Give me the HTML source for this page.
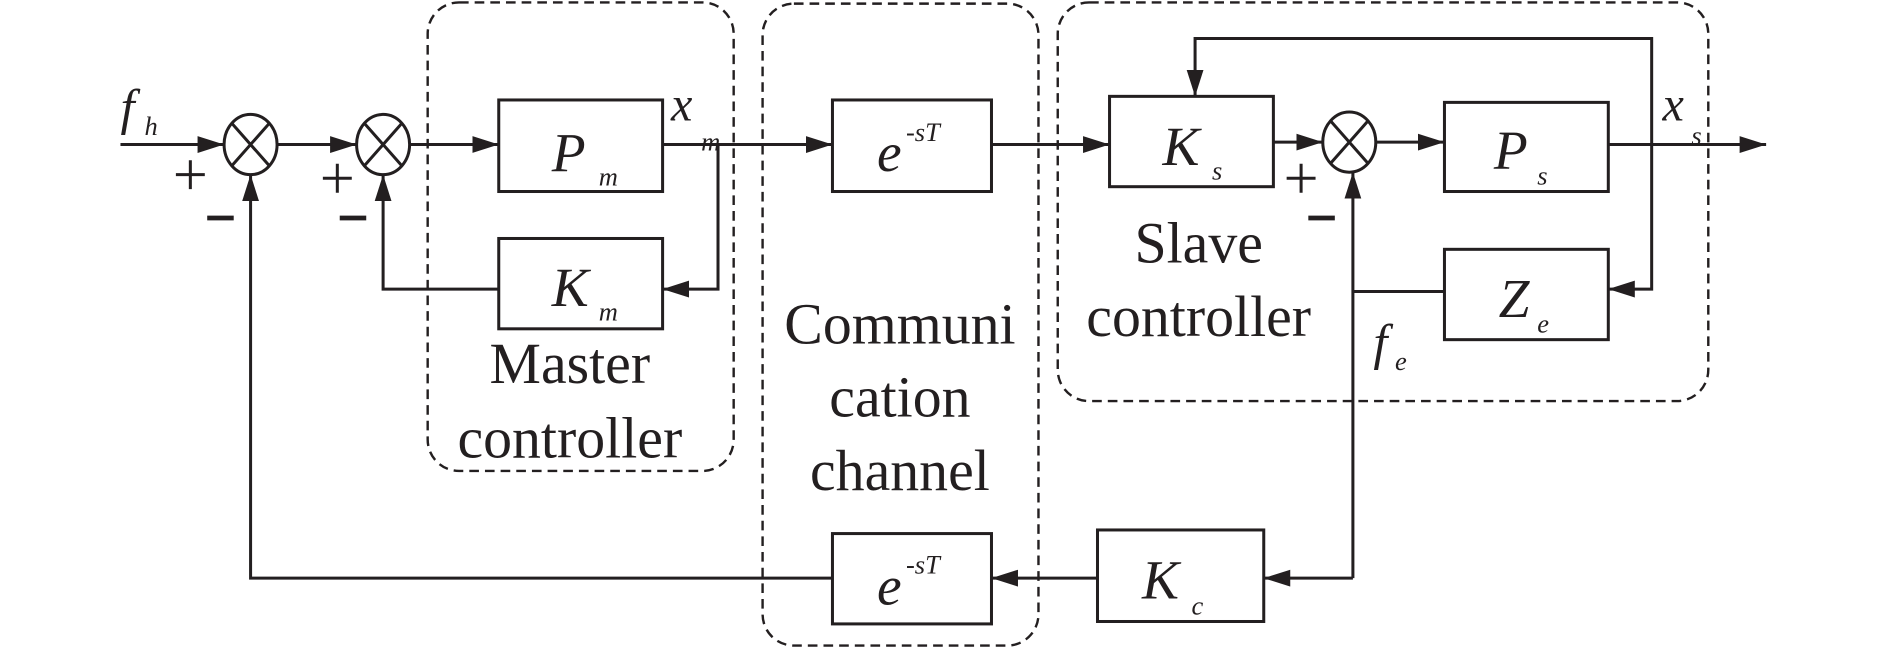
<!DOCTYPE html>
<html><head><meta charset="utf-8"><style>
html,body{margin:0;padding:0;background:#fff;}
svg{display:block;}
text{font-family:"Liberation Serif",serif;fill:#231f20;}
.i{font-style:italic;}
</style></head><body>
<svg width="1889" height="648" viewBox="0 0 1568 538" preserveAspectRatio="none" xmlns="http://www.w3.org/2000/svg">
<defs><marker id="a" markerWidth="22" markerHeight="14" refX="22" refY="7" orient="auto" markerUnits="userSpaceOnUse"><path d="M0,0 L22,7 L0,14 z" fill="#231f20"/></marker></defs>
<g fill="none" stroke="#231f20" stroke-width="2" stroke-dasharray="8,5">
<rect x="355" y="2" width="254" height="389" rx="26"/>
<rect x="633" y="3" width="229" height="533" rx="26"/>
<rect x="878" y="2" width="540" height="331" rx="26"/>
</g>
<g fill="none" stroke="#231f20" stroke-width="2.5">
<rect x="414" y="83" width="136" height="76"/>
<rect x="414" y="198" width="136" height="75"/>
<rect x="691" y="83" width="132" height="76"/>
<rect x="921" y="80" width="136" height="75"/>
<rect x="1199" y="85" width="136" height="74"/>
<rect x="1199" y="207" width="136" height="75"/>
<rect x="911" y="440" width="138" height="76"/>
<rect x="691" y="443" width="132" height="75"/>
<ellipse cx="208" cy="120" rx="22" ry="25"/>
<path d="M193,103 L223,137 M223,103 L193,137"/>
<ellipse cx="318" cy="120" rx="22" ry="25"/>
<path d="M303,103 L333,137 M333,103 L303,137"/>
<ellipse cx="1120" cy="118" rx="22" ry="25"/>
<path d="M1105,101 L1135,135 M1135,101 L1105,135"/>
<path d="M100,120 L186,120" marker-end="url(#a)"/>
<path d="M230,120 L296,120" marker-end="url(#a)"/>
<path d="M340,120 L414,120" marker-end="url(#a)"/>
<path d="M550,120 L691,120" marker-end="url(#a)"/>
<path d="M596,120 L596,240 L550,240" marker-end="url(#a)"/>
<path d="M414,240 L318,240 L318,145" marker-end="url(#a)"/>
<path d="M823,120 L921,120" marker-end="url(#a)"/>
<path d="M1057,118 L1098,118" marker-end="url(#a)"/>
<path d="M1142,118 L1199,118" marker-end="url(#a)"/>
<path d="M1335,120 L1466,120" marker-end="url(#a)"/>
<path d="M1371,120 L1371,32 L992,32 L992,80" marker-end="url(#a)"/>
<path d="M1371,120 L1371,240 L1335,240" marker-end="url(#a)"/>
<path d="M1199,242 L1123,242"/>
<path d="M1123,480 L1123,143" marker-end="url(#a)"/>
<path d="M1123,480 L1049,480" marker-end="url(#a)"/>
<path d="M911,480 L823,480" marker-end="url(#a)"/>
<path d="M691,480 L208,480 L208,145" marker-end="url(#a)"/>
<path d="M146,145 L170,145 M158,133 L158,157"/>
<path d="M268,148 L292,148 M280,136 L280,160"/>
<path d="M1068,148 L1092,148 M1080,136 L1080,160"/>
</g>
<g stroke="#231f20" stroke-width="4">
<path d="M172,181 L194,181 M282,181 L304,181 M1086,181 L1108,181"/>
</g>
<text class="i" x="100" y="103" font-size="42">f</text><text class="i" x="120" y="112" font-size="22">h</text>
<text class="i" x="557" y="100" font-size="40">x</text><text class="i" x="582" y="125" font-size="22">m</text>
<text class="i" x="458" y="142" font-size="46">P</text><text class="i" x="497" y="154" font-size="22">m</text>
<text class="i" x="458" y="254" font-size="46">K</text><text class="i" x="497" y="266" font-size="22">m</text>
<text class="i" x="728" y="142" font-size="46">e</text><text class="i" x="752" y="117" font-size="22">-sT</text>
<text class="i" x="728" y="502" font-size="46">e</text><text class="i" x="752" y="476" font-size="22">-sT</text>
<text class="i" x="965" y="137" font-size="46">K</text><text class="i" x="1006" y="149" font-size="22">s</text>
<text class="i" x="1240" y="140" font-size="46">P</text><text class="i" x="1276" y="153" font-size="22">s</text>
<text class="i" x="1244" y="263" font-size="46">Z</text><text class="i" x="1276" y="276" font-size="22">e</text>
<text class="i" x="948" y="497" font-size="46">K</text><text class="i" x="989" y="510" font-size="22">c</text>
<text class="i" x="1380" y="100" font-size="40">x</text><text class="i" x="1404" y="120" font-size="22">s</text>
<text class="i" x="1140" y="298" font-size="42">f</text><text class="i" x="1158" y="307" font-size="22">e</text>
<g font-size="48" text-anchor="middle">
<text x="473" y="318">Master</text><text x="473" y="380">controller</text>
<text x="747" y="285">Communi</text><text x="747" y="346">cation</text><text x="747" y="407">channel</text>
<text x="995" y="218">Slave</text><text x="995" y="279">controller</text>
</g>
</svg>
</body></html>
